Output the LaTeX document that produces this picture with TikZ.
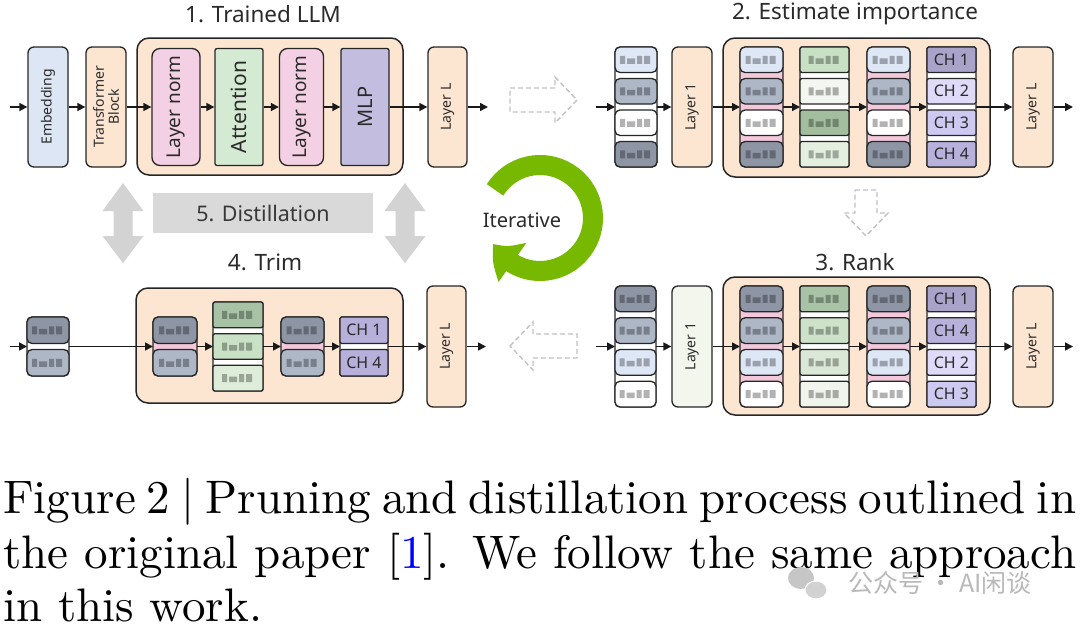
\documentclass[tikz,border=0pt]{standalone}
\usepackage{fontspec}
\usepackage{graphicx}
\usetikzlibrary{arrows.meta,bending}
\newfontfamily\nsans{Noto Sans}
\newfontfamily\cjkf{Noto Sans CJK SC}
\newfontfamily\capf{lmroman10-regular.otf}
\definecolor{peach}{HTML}{FCE6D2}
\definecolor{embblue}{HTML}{DCE6F4}
\definecolor{lnpink}{HTML}{F3D0E3}
\definecolor{attgreen}{HTML}{D5EAD3}
\definecolor{mlpc}{HTML}{C3BDE0}
\definecolor{seppink}{HTML}{F2C8DA}
\definecolor{cblue}{HTML}{DEE7F6}
\definecolor{cgb}{HTML}{AEB7C6}
\definecolor{cdark}{HTML}{8E96A6}
\definecolor{ag1}{HTML}{C8E0C4}
\definecolor{ag2}{HTML}{F4F7F1}
\definecolor{ag3}{HTML}{A3BE9F}
\definecolor{ag4}{HTML}{E4EFE0}
\definecolor{rg1}{HTML}{A8C3A5}
\definecolor{rg2}{HTML}{CDE2C9}
\definecolor{rg3}{HTML}{DCE8D7}
\definecolor{rg4}{HTML}{F0F4EC}
\definecolor{tg1}{HTML}{A7C2A4}
\definecolor{tg2}{HTML}{C9E1C5}
\definecolor{tg3}{HTML}{DEEDD9}
\definecolor{chA}{HTML}{A9A2C9}
\definecolor{chB}{HTML}{DEDAF8}
\definecolor{chC}{HTML}{CEC9F1}
\definecolor{chD}{HTML}{B8B1DB}
\definecolor{chM}{HTML}{B7B0DA}
\definecolor{lpale}{HTML}{F3F6EC}
\definecolor{distgray}{HTML}{D9D9D9}
\definecolor{arrgray}{HTML}{D3D3D3}
\definecolor{dashgray}{HTML}{C2C2C2}
\definecolor{nvgreen}{HTML}{76B900}
\definecolor{txt}{HTML}{2A2A2A}

\tikzset{
  bd/.style={draw=black!85, line width=1.3pt},
  box/.style={draw=black!85, line width=1.3pt, rounded corners=6pt, inner sep=0pt},
  cont/.style={draw=black!85, line width=1.5pt, rounded corners=12pt, fill=peach, inner sep=0pt},
  vt/.style={rotate=90, inner sep=0pt, text=txt, font=\nsans\fontsize{14}{15}\selectfont},
  vtbig/.style={rotate=90, inner sep=0pt, text=txt, font=\nsans\fontsize{19}{20}\selectfont},
  chtxt/.style={inner sep=0pt, text=txt, font=\nsans\fontsize{16}{17}\selectfont},
  ttl/.style={inner sep=0pt, text=txt, font=\nsans\fontsize{22.5}{25}\selectfont},
  arr/.style={-{Triangle[length=8pt,width=8pt]}, line width=1.6pt, black!90},
  dasharr/.style={draw=dashgray, line width=1.4pt, dash pattern=on 5pt off 3pt},
  anchorbox/.style={inner sep=0pt, outer sep=0pt, draw=none},
  capline/.style={anchor=base west, inner sep=0pt, font=\capf\fontsize{47}{54}\selectfont}
}

\newcommand\bars[2]{%
  \fill[black, fill opacity=0.3] ({#1-16},{#2-4}) rectangle ({#1-11},{#2+4})
     ({#1-9},{#2-1.5}) rectangle ({#1-1},{#2+4})
     ({#1+1},{#2-4}) rectangle ({#1+6},{#2+4})
     ({#1+8},{#2-4}) rectangle ({#1+14},{#2+4});}

% #1 name, #2 x1, #3 y1, #4 x2, #5 y2, #6 sep colour, #7 radius, #8 n, #9 colours
\newcommand\stk[9]{%
  \pgfmathsetmacro\skh{((#5)-(#3)-((#8)-1)*6)/(#8)}%
  \draw[bd, fill=#6, rounded corners=#7] (#2,#3) rectangle (#4,#5);
  \foreach \clr [count=\i from 0] in {#9} {
    \pgfmathsetmacro\ya{#3+\i*(\skh+6)}
    \pgfmathsetmacro\yb{\ya+\skh}
    \draw[bd, fill=\clr, rounded corners=#7] (#2,\ya) rectangle (#4,\yb);
    \bars{(#2+#4)/2}{(\ya+\yb)/2}
  }
  \node[anchorbox, minimum width={(#4-#2)*1pt}, minimum height={(#5-#3)*1pt}] (#1) at ({(#2+#4)/2},{(#3+#5)/2}) {};
}

% #1 name, #2 x1, #3 y1, #4 x2, #5 y2, #6 n, #7 colour/label list
\newcommand\chcol[7]{%
  \pgfmathsetmacro\skh{((#5)-(#3)-((#6)-1)*6)/(#6)}%
  \draw[bd, fill=white, rounded corners=1.5pt] (#2,#3) rectangle (#4,#5);
  \foreach \clr/\lab [count=\i from 0] in {#7} {
    \pgfmathsetmacro\ya{#3+\i*(\skh+6)}
    \pgfmathsetmacro\yb{\ya+\skh}
    \draw[bd, fill=\clr, rounded corners=1.5pt] (#2,\ya) rectangle (#4,\yb);
    \node[chtxt] (#1-\i) at ({(#2+#4)/2},{(\ya+\yb)/2}) {\lab};
  }
  \node[anchorbox, minimum width={(#4-#2)*1pt}, minimum height={(#5-#3)*1pt}] (#1) at ({(#2+#4)/2},{(#3+#5)/2}) {};
}

\newcommand\dblarrow[1]{%
  \fill[arrgray] ({#1},183) -- ({#1+20.5},211) -- ({#1+9.5},211) -- ({#1+9.5},236)
    -- ({#1+20.5},236) -- ({#1},263) -- ({#1-20.5},236) -- ({#1-9.5},236)
    -- ({#1-9.5},211) -- ({#1-20.5},211) -- cycle;}

\begin{document}
\begin{tikzpicture}[x=1pt,y=-1pt]
\useasboundingbox (0,0) rectangle (1080,629);
\fill[white] (0,0) rectangle (1080,629);

% ---------- Panel 1: Trained LLM ----------
\node[ttl] (t1) at (263,14) {1. Trained LLM};
\node[cont, minimum width=266pt, minimum height=137pt] (c1) at (270,106.5) {};
\node[box, fill=embblue, minimum width=40pt, minimum height=120pt] (emb) at (48,107) {};
\node[vt] (embt) at (emb) {Embedding};
\node[box, fill=peach, minimum width=40pt, minimum height=120pt] (tb) at (106,107) {};
\node[vt, align=center] (tbt) at (tb) {Transformer\\Block};
\node[box, fill=lnpink, rounded corners=8pt, minimum width=48pt, minimum height=117pt] (ln1) at (176,107) {};
\node[vtbig] (ln1t) at (ln1) {Layer norm};
\node[box, fill=attgreen, rounded corners=2pt, minimum width=48pt, minimum height=117pt] (att) at (239,107) {};
\node[vtbig, font=\nsans\fontsize{21}{22}\selectfont] (attt) at (att) {Attention};
\node[box, fill=lnpink, rounded corners=8pt, minimum width=44pt, minimum height=117pt] (ln2) at (301.5,107) {};
\node[vtbig] (ln2t) at (ln2) {Layer norm};
\node[box, fill=mlpc, rounded corners=2pt, minimum width=48pt, minimum height=117pt] (mlp) at (365,107) {};
\node[vtbig, font=\nsans\fontsize{20}{22}\selectfont] (mlpt) at (mlp) {MLP};
\node[box, fill=peach, minimum width=39pt, minimum height=120pt] (ll1) at (447.5,107) {};
\node[vt] (ll1t) at (ll1) {Layer L};
\coordinate (in1) at (10,107);
\coordinate (out1) at (488,107);
\draw[arr] (in1) -- (emb.west);
\draw[arr] (emb.east) -- (tb.west);
\draw[arr] (tb.east) -- (ln1.west);
\draw[arr] (ln1.east) -- (att.west);
\draw[arr] (att.east) -- (ln2.west);
\draw[arr] (ln2.east) -- (mlp.west);
\draw[arr] (mlp.east) -- (ll1.west);
\draw[arr] (ll1.east) -- (out1);

% ---------- Panel 2: Estimate importance ----------
\node[ttl] (t2) at (855,14) {2. Estimate importance};
\node[cont, minimum width=267pt, minimum height=139pt] (c2) at (856.5,107.5) {};
\stk{s2}{615}{47}{657}{167}{white}{5pt}{4}{cblue,cgb,white,cdark}
\node[box, fill=peach, minimum width=40pt, minimum height=120pt] (l12) at (692,107) {};
\node[vt] (l12t) at (l12) {Layer 1};
\stk{a2}{740}{47}{783}{167}{seppink}{5pt}{4}{cblue,cgb,white,cdark}
\stk{b2}{800}{47}{849}{167}{white}{2pt}{4}{ag1,ag2,ag3,ag4}
\stk{e2}{867}{47}{910}{167}{seppink}{5pt}{4}{cblue,cgb,white,cdark}
\chcol{d2}{927}{47}{976}{167}{4}{chA/CH 1,chB/CH 2,chC/CH 3,chD/CH 4}
\node[box, fill=peach, minimum width=40pt, minimum height=120pt] (ll2) at (1033,107) {};
\node[vt] (ll2t) at (ll2) {Layer L};
\coordinate (in2) at (596,107);
\coordinate (out2) at (1073,107);
\draw[arr] (in2) -- (s2.west);
\draw[arr] (s2.east) -- (l12.west);
\draw[arr] (l12.east) -- (a2.west);
\draw[arr] (a2.east) -- (b2.west);
\draw[arr] (b2.east) -- (e2.west);
\draw[arr] (e2.east) -- (d2.west);
\draw[arr] (d2.east) -- (ll2.west);
\draw[arr] (ll2.east) -- (out2);

% ---------- Panel 3: Rank ----------
\node[ttl] (t3) at (855,262) {3. Rank};
\node[cont, minimum width=267pt, minimum height=138pt] (c3) at (856.5,346) {};
\stk{s3}{615}{286}{656}{407}{white}{5pt}{4}{cdark,cgb,cblue,white}
\node[box, fill=lpale, minimum width=40pt, minimum height=121pt] (l13) at (692,346.5) {};
\node[vt] (l13t) at (l13) {Layer 1};
\stk{a3}{740}{286}{783}{407}{seppink}{5pt}{4}{cdark,cgb,cblue,white}
\stk{b3}{800}{286}{849}{407}{white}{2pt}{4}{rg1,rg2,rg3,rg4}
\stk{e3}{867}{286}{910}{407}{seppink}{5pt}{4}{cdark,cgb,cblue,white}
\chcol{d3}{927}{286}{976}{407}{4}{chA/CH 1,chD/CH 4,chB/CH 2,chC/CH 3}
\node[box, fill=peach, minimum width=40pt, minimum height=121pt] (ll3) at (1033,346.5) {};
\node[vt] (ll3t) at (ll3) {Layer L};
\coordinate (in3) at (596,346.5);
\coordinate (out3) at (1073,346.5);
\draw[arr] (in3) -- (s3.west);
\draw[arr] (s3.east) -- (l13.west);
\draw[arr] (l13.east) -- (a3.west);
\draw[arr] (a3.east) -- (b3.west);
\draw[arr] (b3.east) -- (e3.west);
\draw[arr] (e3.east) -- (d3.west);
\draw[arr] (d3.east) -- (ll3.west);
\draw[arr] (ll3.east) -- (out3);

% ---------- Panel 4: Trim ----------
\node[ttl] (t4) at (265,262) {4. Trim};
\node[cont, minimum width=267pt, minimum height=115pt] (c4) at (269.5,345.5) {};
\stk{s4}{27}{317}{69}{376}{white}{5pt}{2}{cdark,cgb}
\stk{a4}{153}{317}{197}{376}{seppink}{5pt}{2}{cdark,cgb}
\stk{b4}{213}{302}{263}{391}{white}{2pt}{3}{tg1,tg2,tg3}
\stk{e4}{281}{317}{324}{376}{seppink}{5pt}{2}{cdark,cgb}
\chcol{d4}{340}{317}{388}{376}{2}{chM/CH 1,chM/CH 4}
\node[box, fill=peach, minimum width=39pt, minimum height=121pt] (ll4) at (446.5,346.5) {};
\node[vt] (ll4t) at (ll4) {Layer L};
\coordinate (in4) at (10,346.5);
\coordinate (out4) at (486,346.5);
\draw[arr] (in4) -- (s4.west);
\draw[arr] (s4.east) -- (a4.west);
\draw[arr] (a4.east) -- (b4.west);
\draw[arr] (b4.east) -- (e4.west);
\draw[arr] (e4.east) -- (d4.west);
\draw[arr] (d4.east) -- (ll4.west);
\draw[arr] (ll4.east) -- (out4);

% ---------- Distillation ----------
\dblarrow{123}
\dblarrow{405}
\node[fill=distgray, inner sep=0pt, minimum width=220pt, minimum height=40pt, text=black!78,
      font=\nsans\fontsize{21.5}{23}\selectfont] (dist) at (263,213) {5. Distillation};

% ---------- dashed flow arrows ----------
\draw[dasharr] (510,88) -- (555,88) -- (555,77) -- (577,100) -- (555,123) -- (555,112) -- (510,112) -- cycle;
\draw[dasharr] (855,190) -- (877,190) -- (877,213) -- (888,213) -- (866,236) -- (844,213) -- (855,213) -- cycle;
\draw[dasharr] (510,346) -- (533,322) -- (533,334) -- (577,334) -- (577,358) -- (533,358) -- (533,370) -- cycle;

% ---------- Iterative loop ----------
\coordinate (loopc) at (540,218);
\draw[nvgreen, line width=20pt, -{Triangle[bend, length=27pt, width=46pt]}]
  (loopc) ++(-148:53) arc[start angle=-148, end angle=151, radius=53];
\node[inner sep=0pt, text=txt, font=\nsans\fontsize{20}{21}\selectfont] (iter) at (522,220) {Iterative};

% ---------- caption ----------
\node[capline] (cap1) at (3,513) {\makebox[1073pt][s]{Figure 2 | Pruning and distillation process outlined in}};
\node[capline] (cap2) at (3,568) {\makebox[1073pt][s]{the original paper [{\color{blue}1}]. We follow the same approach}};
\node[capline] (cap3) at (3,621) {in this work.};

% ---------- watermark ----------
\fill[gray!45] (801,578) ellipse (13pt and 11pt);
\fill[gray!35, draw=white, line width=1pt] (816,590) ellipse (11pt and 9pt);
\node[inner sep=0pt, text=gray!55, font=\cjkf\fontsize{25}{26}\selectfont] (wm) at (940,583) {公众号 · AI闲谈};
\end{tikzpicture}
\end{document}
